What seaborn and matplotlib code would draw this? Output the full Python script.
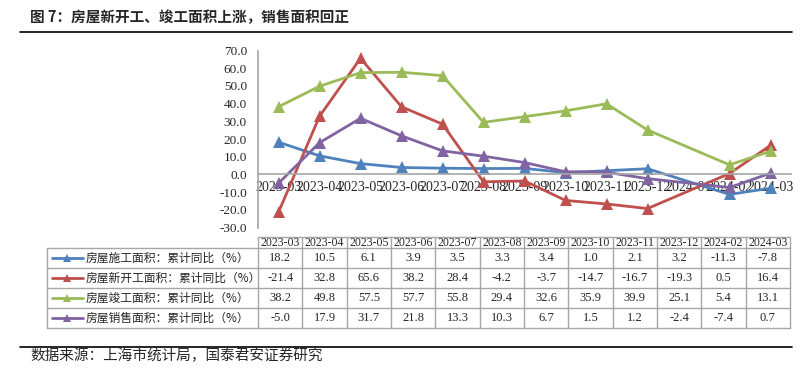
import matplotlib
matplotlib.use("Agg")
import matplotlib.pyplot as plt
import pandas as pd
import seaborn as sns

# chart categories (2024-01 has no data, lines jump across it)
months = ["2023-03", "2023-04", "2023-05", "2023-06", "2023-07", "2023-08", "2023-09",
          "2023-10", "2023-11", "2023-12", "2024-01", "2024-02", "2024-03"]
table_months = ["2023-03", "2023-04", "2023-05", "2023-06", "2023-07", "2023-08", "2023-09",
                "2023-10", "2023-11", "2023-12", "2024-02", "2024-03"]

series_names = ["房屋施工面积：累计同比（%）", "房屋新开工面积：累计同比（%）",
                "房屋竣工面积：累计同比（%）", "房屋销售面积：累计同比（%）"]
construction = [18.2, 10.5, 6.1, 3.9, 3.5, 3.3, 3.4, 1.0, 2.1, 3.2, -11.3, -7.8]
new_starts = [-21.4, 32.8, 65.6, 38.2, 28.4, -4.2, -3.7, -14.7, -16.7, -19.3, 0.5, 16.4]
completed = [38.2, 49.8, 57.5, 57.7, 55.8, 29.4, 32.6, 35.9, 39.9, 25.1, 5.4, 13.1]
sales = [-5.0, 17.9, 31.7, 21.8, 13.3, 10.3, 6.7, 1.5, 1.2, -2.4, -7.4, 0.7]
colors = ["#4F81BD", "#C0504D", "#9BBB59", "#8064A2"]

all_values = [construction, new_starts, completed, sales]

rows = []
for name, vals in zip(series_names, all_values):
    for m, v in zip(table_months, vals):
        rows.append({"series": name, "pos": months.index(m), "value": v})
df = pd.DataFrame(rows)

sns.set_style("white")
plt.rcParams["font.family"] = ["Liberation Serif", "Noto Sans CJK SC"]
cjk = ["Noto Sans CJK SC", "DejaVu Sans"]

fig = plt.figure(figsize=(8.08, 3.73), dpi=100)
W, H = 808, 373
ax = fig.add_axes([258 / W, 1 - 227.5 / H, (791 - 258) / W, (227.5 - 50.5) / H])

sns.lineplot(data=df, x="pos", y="value", hue="series", hue_order=series_names,
             palette=colors, marker="^", markersize=8, markeredgewidth=0,
             linewidth=2, legend=False, ax=ax)

ax.set_xlim(-0.5, 12.5)
ax.set_ylim(-30, 70)
ax.set_yticks(range(-30, 71, 10))
ax.set_yticklabels([f"{t:.1f}" for t in range(-30, 71, 10)], fontsize=9.5)
ax.set_xticks(range(len(months)))
ax.set_xticklabels(months, fontsize=7.5)
ax.tick_params(axis="both", length=0)
ax.tick_params(axis="x", pad=5)
ax.tick_params(axis="y", pad=8)
ax.set_xlabel("")
ax.set_ylabel("")
ax.spines["top"].set_visible(False)
ax.spines["right"].set_visible(False)
ax.spines["bottom"].set_position(("data", 0))
for s in ["bottom", "left"]:
    ax.spines[s].set_color("#a6a6a6")
    ax.spines[s].set_linewidth(1.2)

# overlay in pixel coordinates for title, table and source
ov = fig.add_axes([0, 0, 1, 1], zorder=-1)
ov.set_xlim(0, W)
ov.set_ylim(H, 0)
ov.axis("off")

ov.text(30, 17, "图 7：房屋新开工、竣工面积上涨，销售面积回正", family=cjk,
        fontsize=10.5, fontweight="bold", va="center", ha="left")
ov.plot([20, 792], [32, 32], color="black", lw=1.2)
ov.plot([20, 792], [347, 347], color="black", lw=1.2)
ov.text(30, 356, "数据来源：上海市统计局，国泰君安证券研究", family=cjk,
        fontsize=10.5, va="center", ha="left")

# data table
grid = "#a6a6a6"
x0, x1, lx = 258, 790, 47
cw = (x1 - x0) / len(table_months)
hy0, hy1, rh = 237, 248, 20
ov.plot([x0, x1], [hy0, hy0], color=grid, lw=1)
for i in range(len(series_names) + 1):
    y = hy1 + i * rh
    ov.plot([lx, x1], [y, y], color=grid, lw=1)
ov.plot([lx, lx], [hy1, hy1 + 4 * rh], color=grid, lw=1)
for j in range(len(table_months) + 1):
    x = x0 + j * cw
    ov.plot([x, x], [hy0, hy1 + 4 * rh], color=grid, lw=1)

for j, m in enumerate(table_months):
    ov.text(x0 + (j + 0.5) * cw, (hy0 + hy1) / 2, m, fontsize=8.5,
            ha="center", va="center")

for i, (name, vals, c) in enumerate(zip(series_names, all_values, colors)):
    yc = hy1 + (i + 0.5) * rh
    ov.plot([52, 83], [yc, yc], color=c, lw=2)
    ov.plot([67], [yc], marker="^", color=c, markersize=6, markeredgewidth=0)
    ov.text(86, yc, name, family=cjk, fontsize=8.5, ha="left", va="center")
    for j, v in enumerate(vals):
        ov.text(x0 + (j + 0.5) * cw, yc, f"{v:.1f}", fontsize=9,
                ha="center", va="center")

fig.savefig("out.png", dpi=100)
